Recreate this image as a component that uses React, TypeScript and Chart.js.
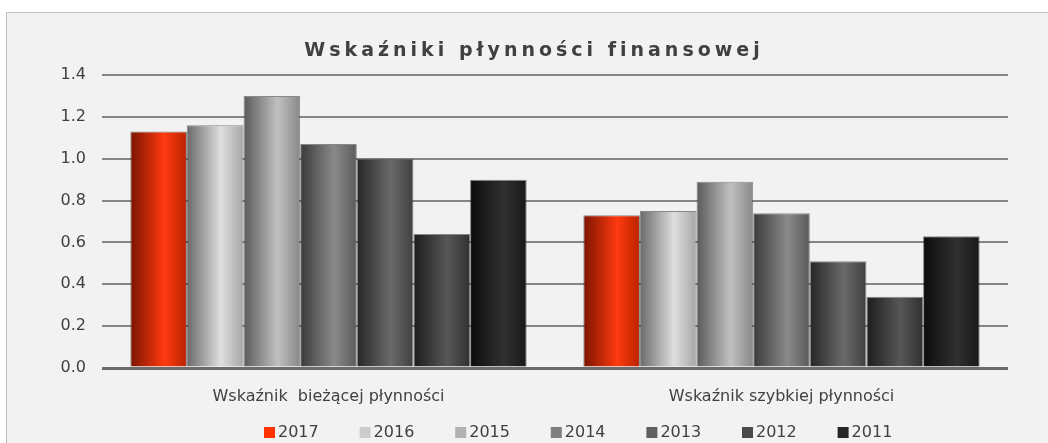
import React, { useEffect, useRef } from 'react';
import { Chart, registerables } from 'chart.js';

Chart.register(...registerables);

// ---- data ----
const chartTitle = 'Wskaźniki płynności finansowej';
const categories = ['Wskaźnik  bieżącej płynności', 'Wskaźnik szybkiej płynności'];
const seriesLabels = ['2017', '2016', '2015', '2014', '2013', '2012', '2011'];
const values2017 = [1.13, 0.73];
const values2016 = [1.16, 0.75];
const values2015 = [1.3, 0.89];
const values2014 = [1.07, 0.74];
const values2013 = [1.0, 0.51];
const values2012 = [0.64, 0.34];
const values2011 = [0.9, 0.63];
const seriesValues = [values2017, values2016, values2015, values2014, values2013, values2012, values2011];
const yMin = 0;
const yMax = 1.4;
const yStep = 0.2;

// ---- styles ----
const FONT = '"DejaVu Sans", Verdana, sans-serif';
const TEXT = '#404040';
const legendColors = ['#ff3300', '#cccccc', '#b2b2b2', '#7f7f7f', '#606060', '#4a4a4a', '#262626'];
const barStops: string[][] = [
  ['#7a1400', '#ff3a10', '#b82400'],
  ['#6a6a6a', '#dedede', '#a6a6a6'],
  ['#5a5a5a', '#c0c0c0', '#888888'],
  ['#3a3a3a', '#8a8a8a', '#5a5a5a'],
  ['#262626', '#6a6a6a', '#404040'],
  ['#1c1c1c', '#575757', '#303030'],
  ['#0c0c0c', '#303030', '#181818'],
];
const CAT_PCT = 0.875;
const BAR_PCT = 1;

export default function App() {
  const canvasRef = useRef<HTMLCanvasElement | null>(null);

  useEffect(() => {
    document.body.style.margin = '0';
    const canvas = canvasRef.current;
    if (!canvas) return;

    const bgPlugin = {
      id: 'bgPlugin',
      beforeDraw(chart: any) {
        const ctx = chart.ctx;
        ctx.save();
        ctx.fillStyle = '#ffffff';
        ctx.fillRect(0, 0, chart.width, chart.height);
        ctx.fillStyle = '#f2f2f2';
        ctx.fillRect(6, 12, chart.width, chart.height);
        ctx.strokeStyle = '#bfbfbf';
        ctx.lineWidth = 1;
        ctx.beginPath();
        ctx.moveTo(6.5, chart.height + 5);
        ctx.lineTo(6.5, 12.5);
        ctx.lineTo(chart.width + 5, 12.5);
        ctx.stroke();
        ctx.restore();
      },
    };

    const titleLegendPlugin = {
      id: 'titleLegendPlugin',
      afterDraw(chart: any) {
        const ctx = chart.ctx;
        ctx.save();
        // title
        const sp = 4;
        ctx.font = `bold 19px ${FONT}`;
        (ctx as any).letterSpacing = `${sp}px`;
        ctx.fillStyle = TEXT;
        ctx.textBaseline = 'alphabetic';
        ctx.textAlign = 'left';
        const w = ctx.measureText(chartTitle).width - sp;
        ctx.fillText(chartTitle, 532 - w / 2, 56);
        (ctx as any).letterSpacing = '0px';
        // legend
        ctx.font = `16px ${FONT}`;
        ctx.textBaseline = 'middle';
        const startX = 264;
        const step = 95.6;
        chart.data.datasets.forEach((ds: any, i: number) => {
          const x = startX + i * step;
          ctx.fillStyle = legendColors[i];
          ctx.fillRect(x, 427, 11, 11);
          ctx.fillStyle = TEXT;
          ctx.fillText(ds.label, x + 14, 433);
        });
        ctx.restore();
      },
    };

    const makeBg = (i: number) => (c: any) => {
      const chart = c.chart;
      const xs = chart.scales && chart.scales.x;
      if (!xs || c.type !== 'data' || !xs.width) return legendColors[i];
      const n = seriesLabels.length;
      const catW = xs.width / categories.length;
      const center = xs.getPixelForValue(c.dataIndex);
      const groupW = catW * CAT_PCT;
      const slot = groupW / n;
      const barW = slot * BAR_PCT;
      const left = center - groupW / 2 + c.datasetIndex * slot + (slot - barW) / 2;
      const g = chart.ctx.createLinearGradient(left, 0, left + barW, 0);
      const s = barStops[i];
      g.addColorStop(0, s[0]);
      g.addColorStop(0.6, s[1]);
      g.addColorStop(1, s[2]);
      return g;
    };

    const chart = new Chart(canvas, {
      type: 'bar',
      data: {
        labels: categories,
        datasets: seriesLabels.map((label, i) => ({
          label,
          data: seriesValues[i],
          backgroundColor: makeBg(i),
          borderColor: 'rgba(50,50,50,0.55)',
          borderWidth: 1,
          categoryPercentage: CAT_PCT,
          barPercentage: BAR_PCT,
        })),
      },
      options: {
        responsive: false,
        animation: false,
        devicePixelRatio: 1,
        layout: { padding: { top: 75, right: 40, bottom: 30, left: 0 } },
        plugins: {
          legend: { display: false },
          title: { display: false },
          tooltip: { enabled: false },
        },
        scales: {
          x: {
            grid: { display: false },
            border: { display: false },
            ticks: { color: TEXT, font: { family: FONT, size: 16 }, padding: 11 },
            afterFit: (s: any) => {
              s.height = 45;
            },
          },
          y: {
            min: yMin,
            max: yMax,
            grid: {
              color: (c: any) => (c.tick && c.tick.value === 0 ? '#6a6a6a' : '#858585'),
              lineWidth: (c: any) => (c.tick && c.tick.value === 0 ? 3 : 2),
              drawTicks: false,
            },
            border: { display: false },
            ticks: {
              stepSize: yStep,
              color: TEXT,
              font: { family: FONT, size: 16 },
              padding: 16,
              callback: (v: any) => Number(v).toFixed(1),
            },
            afterFit: (s: any) => {
              s.width = 102;
            },
          },
        },
      },
      plugins: [bgPlugin, titleLegendPlugin],
    });

    return () => chart.destroy();
  }, []);

  return (
    <div style={{ position: 'fixed', left: 0, top: 0, width: 1048, height: 443 }}>
      <canvas ref={canvasRef} width={1048} height={443} style={{ display: 'block' }} />
    </div>
  );
}
